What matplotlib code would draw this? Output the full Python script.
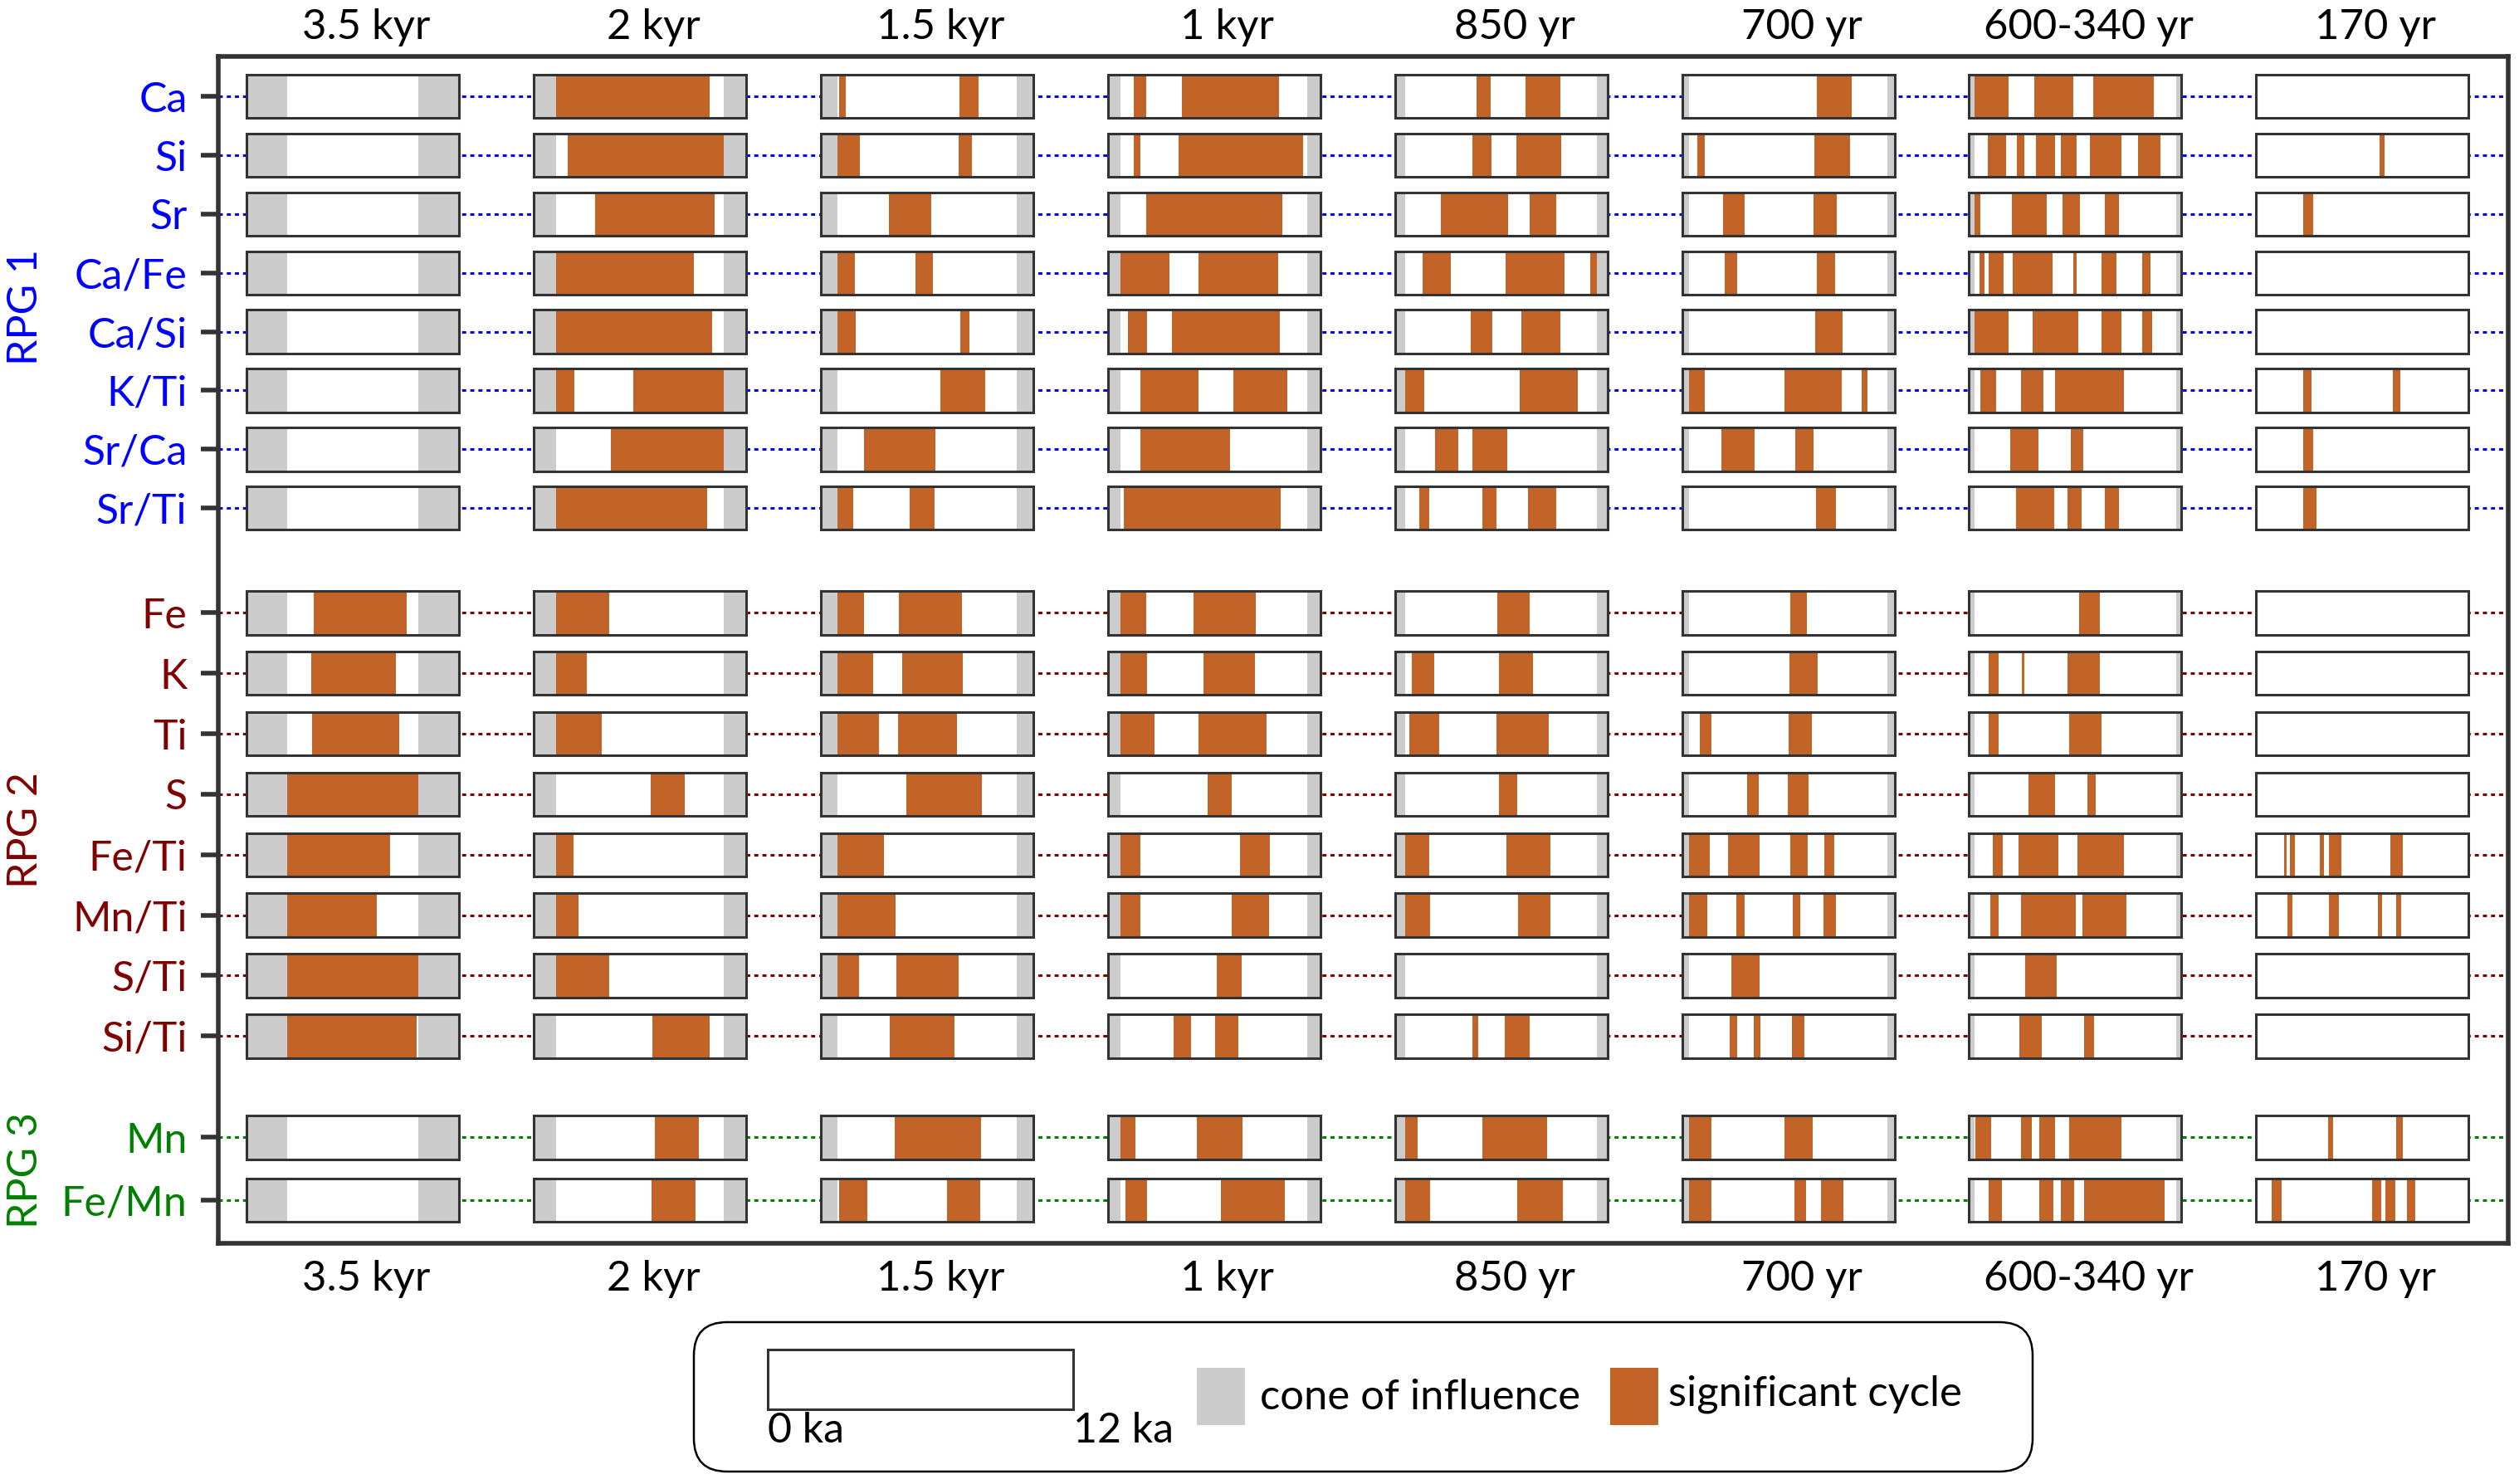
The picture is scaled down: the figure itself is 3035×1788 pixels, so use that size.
import matplotlib
matplotlib.use("Agg")
import matplotlib.pyplot as plt
from matplotlib.patches import Rectangle, FancyBboxPatch

# ---- data (intervals in ka within the 0-12 ka record) ----
periods = ["3.5 kyr", "2 kyr", "1.5 kyr", "1 kyr", "850 yr", "700 yr", "600-340 yr", "170 yr"]
groups = ["RPG 1", "RPG 2", "RPG 3"]
rpg1 = ["Ca", "Si", "Sr", "Ca/Fe", "Ca/Si", "K/Ti", "Sr/Ca", "Sr/Ti"]
rpg2 = ["Fe", "K", "Ti", "S", "Fe/Ti", "Mn/Ti", "S/Ti", "Si/Ti"]
rpg3 = ["Mn", "Fe/Mn"]
record_ka = 12.0

# cone of influence width at each end of the record, per period
coi_ka = [2.28, 1.28, 0.95, 0.74, 0.59, 0.38, 0.30, 0.05]

sig_3500 = {
    "Fe": [(3.79, 9.04)], "K": [(3.67, 8.45)], "Ti": [(3.71, 8.62)],
    "S": [(2.28, 9.72)], "Fe/Ti": [(2.28, 8.09)], "Mn/Ti": [(2.28, 7.34)],
    "S/Ti": [(2.28, 9.72)], "Si/Ti": [(2.28, 9.6)],
}
sig_2000 = {
    "Ca": [(1.28, 9.94)], "Si": [(1.94, 10.72)], "Sr": [(3.47, 10.22)],
    "Ca/Fe": [(1.28, 9.04)], "Ca/Si": [(1.28, 10.06)],
    "K/Ti": [(1.28, 2.30), (5.65, 10.72)], "Sr/Ca": [(4.37, 10.72)],
    "Sr/Ti": [(1.28, 9.82)],
    "Fe": [(1.28, 4.28)], "K": [(1.28, 3.01)], "Ti": [(1.28, 3.84)],
    "S": [(6.60, 8.53)], "Fe/Ti": [(1.28, 2.27)], "Mn/Ti": [(1.28, 2.52)],
    "S/Ti": [(1.28, 4.25)], "Si/Ti": [(6.72, 9.94)],
    "Mn": [(6.84, 9.32)], "Fe/Mn": [(6.68, 9.16)],
}
sig_1500 = {
    "Ca": [(1.03, 1.40), (7.84, 8.90)], "Si": [(0.95, 2.23), (7.79, 8.53)],
    "Sr": [(3.84, 6.26)], "Ca/Fe": [(0.95, 1.94), (5.36, 6.35)],
    "Ca/Si": [(0.95, 1.98), (7.87, 8.41)], "K/Ti": [(6.77, 9.28)],
    "Sr/Ca": [(2.47, 6.48)], "Sr/Ti": [(0.95, 1.86), (5.03, 6.43)],
    "Fe": [(0.95, 2.47), (4.42, 8.00)], "K": [(0.95, 2.96), (4.62, 8.04)],
    "Ti": [(0.95, 3.30), (4.37, 7.72)], "S": [(4.86, 9.11)],
    "Fe/Ti": [(0.95, 3.55)], "Mn/Ti": [(0.95, 4.25)],
    "S/Ti": [(0.95, 2.18), (4.28, 7.79)], "Si/Ti": [(3.91, 7.55)],
    "Mn": [(4.16, 9.04)], "Fe/Mn": [(1.03, 2.64), (7.13, 8.99)],
}
sig_1000 = {
    "Ca": [(1.45, 2.15), (4.18, 9.68)], "Si": [(1.49, 1.82), (4.01, 11.05)],
    "Sr": [(2.15, 9.85)], "Ca/Fe": [(0.74, 3.48), (5.14, 9.64)],
    "Ca/Si": [(1.16, 2.23), (3.60, 9.72)], "K/Ti": [(1.86, 5.14), (7.08, 10.14)],
    "Sr/Ca": [(1.82, 6.91)], "Sr/Ti": [(0.91, 9.77)],
    "Fe": [(0.74, 2.15), (4.84, 8.36)], "K": [(0.74, 2.20), (5.42, 8.32)],
    "Ti": [(0.74, 2.65), (5.14, 8.98)], "S": [(5.63, 7.00)],
    "Fe/Ti": [(0.74, 1.82), (7.49, 9.14)], "Mn/Ti": [(0.74, 1.82), (7.00, 9.11)],
    "S/Ti": [(6.17, 7.57)], "Si/Ti": [(3.72, 4.68), (6.04, 7.37)],
    "Mn": [(0.74, 1.54), (5.05, 7.61)], "Fe/Mn": [(1.00, 2.20), (6.37, 10.01)],
}
sig_850 = {
    "Ca": [(4.62, 5.39), (7.38, 9.37)], "Si": [(4.40, 5.47), (6.86, 9.41)],
    "Sr": [(2.59, 6.41), (7.60, 9.12)],
    "Ca/Fe": [(1.57, 3.18), (6.23, 9.59), (11.03, 11.41)],
    "Ca/Si": [(4.28, 5.51), (7.16, 9.37)], "K/Ti": [(0.59, 1.66), (7.04, 10.31)],
    "Sr/Ca": [(2.29, 3.56), (4.40, 6.36)],
    "Sr/Ti": [(1.40, 1.96), (4.92, 5.72), (7.50, 9.12)],
    "Fe": [(5.77, 7.60)], "K": [(0.97, 2.21), (5.89, 7.80)],
    "Ti": [(0.80, 2.50), (5.72, 8.69)], "S": [(5.86, 6.91)],
    "Fe/Ti": [(0.59, 1.96), (6.28, 8.77)], "Mn/Ti": [(0.59, 1.99), (6.96, 8.77)],
    "Si/Ti": [(4.40, 4.70), (6.19, 7.60)],
    "Mn": [(0.59, 1.27), (4.92, 8.60)], "Fe/Mn": [(0.59, 1.99), (6.91, 9.50)],
}
sig_700 = {
    "Ca": [(7.60, 9.59)], "Si": [(0.89, 1.27), (7.46, 9.50)],
    "Sr": [(2.33, 3.52), (7.42, 8.74)], "Ca/Fe": [(2.41, 3.13), (7.60, 8.65)],
    "Ca/Si": [(7.50, 9.07)], "K/Ti": [(0.38, 1.27), (5.77, 9.04), (10.14, 10.48)],
    "Sr/Ca": [(2.21, 4.12), (6.41, 7.42)], "Sr/Ti": [(7.55, 8.69)],
    "Fe": [(6.14, 7.04)], "K": [(6.06, 7.68)], "Ti": [(1.02, 1.66), (6.02, 7.33)],
    "S": [(3.68, 4.32), (5.98, 7.13)],
    "Fe/Ti": [(0.38, 1.57), (2.59, 4.37), (6.14, 7.08), (8.02, 8.60)],
    "Mn/Ti": [(0.38, 1.44), (3.05, 3.52), (6.28, 6.70), (7.97, 8.69)],
    "S/Ti": [(2.80, 4.37)], "Si/Ti": [(2.71, 3.13), (4.07, 4.45), (6.23, 6.91)],
    "Mn": [(0.38, 1.66), (5.77, 7.38)],
    "Fe/Mn": [(0.38, 1.66), (6.36, 7.00), (7.85, 9.12)],
}
sig_600 = {
    "Ca": [(0.30, 2.21), (3.68, 5.88), (7.00, 10.43)],
    "Si": [(1.06, 2.08), (2.71, 3.10), (3.77, 4.87), (5.17, 6.06), (6.83, 8.60), (9.54, 10.81)],
    "Sr": [(0.30, 0.64), (2.41, 4.40), (5.26, 6.28), (7.68, 8.48)],
    "Ca/Fe": [(0.59, 0.85), (1.10, 1.96), (2.46, 4.70), (5.89, 6.06), (7.46, 8.32), (9.79, 10.26)],
    "Ca/Si": [(0.30, 2.21), (3.60, 6.19), (7.46, 8.60), (9.76, 10.34)],
    "K/Ti": [(0.64, 1.52), (2.93, 4.20), (4.84, 8.77)],
    "Sr/Ca": [(2.33, 3.90), (5.77, 6.44)],
    "Sr/Ti": [(2.63, 4.79), (5.56, 6.36), (7.68, 8.48)],
    "Fe": [(6.23, 7.38)], "K": [(1.10, 1.66), (2.96, 3.10), (5.56, 7.38)],
    "Ti": [(1.10, 1.66), (5.64, 7.50)], "S": [(3.35, 4.84), (6.70, 7.13)],
    "Fe/Ti": [(1.32, 1.91), (2.80, 5.04), (6.14, 8.74)],
    "Mn/Ti": [(1.19, 1.69), (2.93, 6.02), (6.41, 8.87)],
    "S/Ti": [(3.18, 4.96)], "Si/Ti": [(2.84, 4.12), (6.49, 7.08)],
    "Mn": [(0.34, 1.27), (2.93, 3.56), (3.98, 4.84), (5.64, 8.60)],
    "Fe/Mn": [(1.10, 1.86), (3.98, 4.75), (5.17, 5.94), (6.49, 11.03)],
}
sig_170 = {
    "Si": [(6.98, 7.24)], "Sr": [(2.68, 3.24)],
    "K/Ti": [(2.68, 3.14), (7.70, 8.12)], "Sr/Ca": [(2.64, 3.24)],
    "Sr/Ti": [(2.68, 3.41)],
    "Fe/Ti": [(1.57, 1.74), (1.92, 2.21), (3.58, 3.83), (4.13, 4.81), (7.57, 8.29)],
    "Mn/Ti": [(1.79, 2.04), (4.13, 4.68), (6.89, 7.10), (7.92, 8.17)],
    "Mn": [(4.08, 4.34), (7.92, 8.26)],
    "Fe/Mn": [(0.89, 1.45), (6.55, 7.07), (7.32, 7.87), (8.51, 8.98)],
}
significant = [sig_3500, sig_2000, sig_1500, sig_1000, sig_850, sig_700, sig_600, sig_170]

# ---- style ----
plt.rcParams["font.family"] = ["Lato", "DejaVu Sans"]
group_colors = ["#0000ff", "#800000", "#008000"]
orange = "#c26427"
grey = "#cccccc"
edge = "#333333"

W, H = 3035, 1788
fig = plt.figure(figsize=(W / 100, H / 100), dpi=100)

# frame of the main panel in pixels
fl, fr, ft, fb = 263, 3022, 68, 1498
ax = fig.add_axes([fl / W, (H - fb) / H, (fr - fl) / W, (fb - ft) / H])

px_per_ka = 256 / record_ka
col_pitch = 345.9 / px_per_ka
col_start = (297 - fl) / px_per_ka
ax.set_xlim(0, (fr - fl) / px_per_ka)

group_rows = [rpg1, rpg2, rpg3]
group_y0 = [0.0, 8.78, 17.7]
group_step = [1.0, 1.028, 1.07]
box_h = 0.74

ys, labels, label_colors, row_group = [], [], [], []
for g, rows in enumerate(group_rows):
    for i, name in enumerate(rows):
        ys.append(group_y0[g] + i * group_step[g])
        labels.append(name)
        label_colors.append(group_colors[g])
        row_group.append(g)

for y, name, g in zip(ys, labels, row_group):
    ax.axhline(y, color=group_colors[g], lw=2.2, ls=(0, (1.6, 1.6)), zorder=1)
    for j in range(len(periods)):
        x0 = col_start + j * col_pitch
        yb = y - box_h / 2
        ax.add_patch(Rectangle((x0, yb), record_ka, box_h, facecolor="white",
                               edgecolor="none", zorder=2))
        c = coi_ka[j]
        ax.add_patch(Rectangle((x0, yb), c, box_h, facecolor=grey,
                               edgecolor="none", zorder=3))
        ax.add_patch(Rectangle((x0 + record_ka - c, yb), c, box_h, facecolor=grey,
                               edgecolor="none", zorder=3))
        for a, b in significant[j].get(name, []):
            ax.add_patch(Rectangle((x0 + a, yb), b - a, box_h, facecolor=orange,
                                   edgecolor="none", zorder=4))
        ax.add_patch(Rectangle((x0, yb), record_ka, box_h, facecolor="none",
                               edgecolor=edge, lw=2.2, zorder=5))

ax.set_ylim(19.5, -0.68)
ax.set_yticks(ys)
ax.set_yticklabels(labels, fontsize=36)
for tl, col in zip(ax.get_yticklabels(), label_colors):
    tl.set_color(col)
ax.tick_params(axis="y", length=15, width=4, color=edge, pad=12)
ax.set_xticks([])
for sp in ax.spines.values():
    sp.set_linewidth(4)
    sp.set_color(edge)

# period titles above and below the panel (set slightly right of box centre)
xt = ax.get_xaxis_transform()
for j, p in enumerate(periods):
    xc = col_start + j * col_pitch + record_ka / 2 + 0.75
    ax.text(xc, 1.0245, p, transform=xt, ha="center", va="center", fontsize=36.5)
    ax.text(xc, -0.030, p, transform=xt, ha="center", va="center", fontsize=36.5)

# group labels
for name, col, yc in zip(groups, group_colors, [370, 1000, 1410]):
    fig.text(31 / W, 1 - yc / H, name, rotation=90, ha="center", va="center",
             fontsize=36, color=col)

# legend drawn in pixel coordinates
lg = fig.add_axes([0, 0, 1, 1])
lg.set_xlim(0, W)
lg.set_ylim(H, 0)
lg.axis("off")
lg.add_patch(FancyBboxPatch((836, 1593), 1613, 180,
                            boxstyle="round,pad=0,rounding_size=40",
                            facecolor="none", edgecolor="black", lw=1.8))
lg.add_patch(Rectangle((925, 1626), 368, 72, facecolor="white", edgecolor=edge, lw=2.2))
lg.text(925, 1724, "0 ka", ha="left", va="center", fontsize=36)
lg.text(1293, 1724, "12 ka", ha="left", va="center", fontsize=36)
lg.add_patch(Rectangle((1442, 1648), 58, 69, facecolor=grey, edgecolor="none"))
lg.text(1518, 1684, "cone of influence", ha="left", va="center", fontsize=36.5)
lg.add_patch(Rectangle((1940, 1648), 58, 69, facecolor=orange, edgecolor="none"))
lg.text(2010, 1680, "significant cycle", ha="left", va="center", fontsize=36.5)

fig.savefig("out.png", dpi=100)
